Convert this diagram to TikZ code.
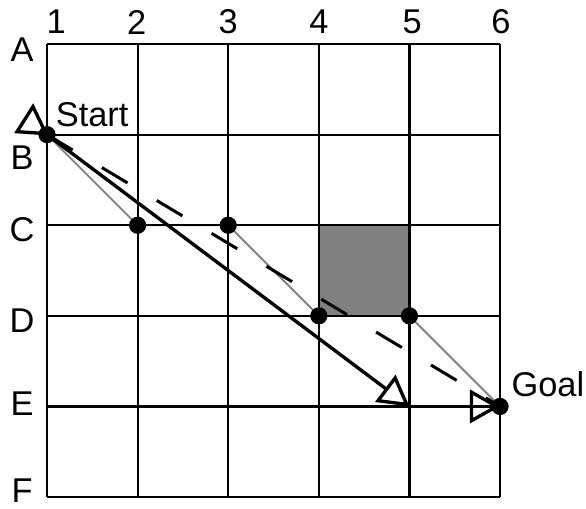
\documentclass[tikz,border=0pt]{standalone}
\usepackage{fontspec}
\setmainfont{Liberation Sans}
\usetikzlibrary{arrows.meta, positioning}
\pgfdeclarelayer{background}
\pgfsetlayers{background,main}
\tikzset{
    gridline/.style={line width=0.7pt, draw=black},
    blocked/.style={fill=gray},
    waypoint/.style={circle, fill=black, inner sep=0pt, minimum size=0.19cm},
    tag/.style={font=\fontsize{10.8}{12.5}\selectfont, inner sep=0pt},
    route/.style={draw=gray, line width=0.6pt},
    arrow/.style={line width=1.05pt, -{Triangle[open, length=9.5pt, width=10.5pt]}},
    straight/.style={line width=0.95pt, dash pattern=on 0.33cm off 0.376cm},
    starttip/.style={line width=1.05pt, line join=miter}
}

\begin{document}
\begin{tikzpicture}
    \useasboundingbox (-0.519,0.486) rectangle (5.949,-5.121);

    % column and row labels
    \node (col1) [tag] at (0.10,0.243) {1};
    \node (col2) [tag] at (0.99,0.243) {2};
    \node (col3) [tag] at (2.00,0.243) {3};
    \node (col4) [tag] at (3.00,0.243) {4};
    \node (col5) [tag] at (4.03,0.243) {5};
    \node (col6) [tag] at (5.01,0.243) {6};
    \node (rowA) [tag] at (-0.276,-0.066) {A};
    \node (rowB) [tag] at (-0.276,-1.258) {B};
    \node (rowC) [tag] at (-0.276,-2.05) {C};
    \node (rowD) [tag] at (-0.276,-3.05) {D};
    \node (rowE) [tag] at (-0.276,-3.97) {E};
    \node (rowF) [tag] at (-0.276,-4.93) {F};

    % waypoints
    \node (start) [waypoint] at (0,-1) {};
    \node (c2) [waypoint] at (1,-2) {};
    \node (c3) [waypoint] at (2,-2) {};
    \node (d4) [waypoint] at (3,-3) {};
    \node (d5) [waypoint] at (4,-3) {};
    \node (goal) [waypoint] at (5,-4) {};
    \coordinate (e5) at (4,-4);

    \node (startlbl) [tag, anchor=base west] at ([shift={(0.09,0.095)}]start.center) {Start};
    \node (goallbl) [tag, anchor=base west] at ([shift={(0.12,0.11)}]goal.center) {Goal};

    \begin{pgfonlayer}{background}
        \fill [blocked] (3,-2) rectangle (4,-3);
        \draw [route] (start.center) -- (c2.center) -- (c3.center) -- (d4.center) -- (d5.center) -- (goal.center);
        \draw [gridline] (0,-5) grid (5,0);

        \draw [straight] (start.center) -- (goal.center);
        \draw [arrow] (start.center) -- (e5);
        \draw [arrow] (e5) -- (goal.center);

        \draw [starttip] ([shift={(-0.011,0.011)}]start.center) -- ([shift={(-0.155,0.309)}]start.center)
            -- ([shift={(-0.331,0.033)}]start.center) -- cycle;
    \end{pgfonlayer}
\end{tikzpicture}
\end{document}
